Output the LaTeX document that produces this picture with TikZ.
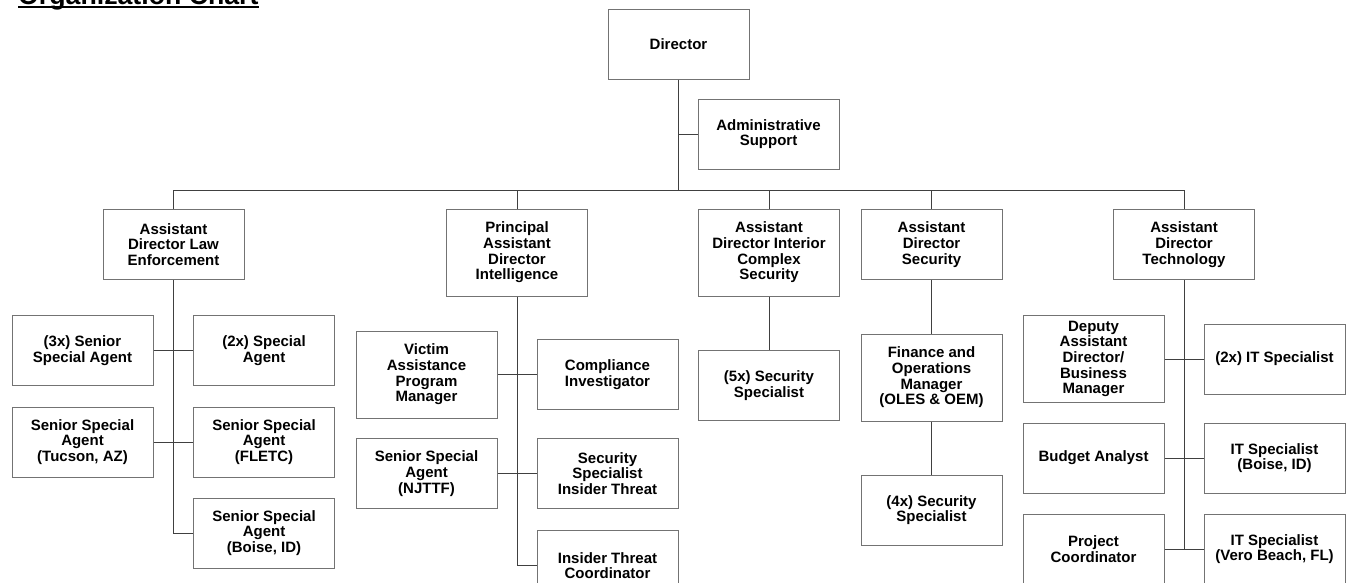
\documentclass[tikz,border=0pt]{standalone}
\usepackage{fontspec}
\setmainfont{Liberation Sans}
\usetikzlibrary{positioning}

\begin{document}
\begin{tikzpicture}[
    x=1pt, y=-1pt,
    every node/.style={font=\fontsize{15}{15.7}\selectfont\bfseries},
    box/.style={draw=black!55, line width=1pt, fill=white, align=center,
        minimum width=141pt, minimum height=70pt, inner sep=1pt},
    tall/.style={box, minimum height=87pt},
    link/.style={draw=black!75, line width=0.9pt}
]

\useasboundingbox (0,0) rectangle (1350,582);

% Title
\node[anchor=base west, inner sep=0pt, font=\fontsize{26.7}{30}\selectfont\bfseries] (title) at (18,4.5) {Organization Chart};
\draw[line width=2pt] ([yshift=-2pt]title.base west) -- ([yshift=-2pt]title.base east);

% Director and support
\node[box] (dir) at (678.5,44) {Director};
\node[box] (admin) at (768.5,134) {Administrative\\Support};

% Assistant directors
\node[box] (law) at (173.5,244.5) {Assistant\\Director Law\\Enforcement};
\node[tall] (intel) at (517,252.5) {Principal\\Assistant\\Director\\Intelligence};
\node[tall] (inter) at (769,252.5) {Assistant\\Director Interior\\Complex\\Security};
\node[box] (sec) at (931.5,244.5) {Assistant\\Director\\Security};
\node[box] (tech) at (1184,244.5) {Assistant\\Director\\Technology};

% Law enforcement staff
\node[box] (ssa3) at (82.5,350.5) {(3x) Senior\\Special Agent};
\node[box] (sa2) at (264,350.5) {(2x) Special\\Agent};
\node[box] (tucson) at (82.5,442) {Senior Special\\Agent\\(Tucson, AZ)};
\node[box] (fletc) at (264,442) {Senior Special\\Agent\\(FLETC)};
\node[box] (boise) at (264,533) {Senior Special\\Agent\\(Boise, ID)};

% Intelligence staff
\node[tall] (victim) at (426.5,374.5) {Victim\\Assistance\\Program\\Manager};
\node[box] (compl) at (607.5,374.5) {Compliance\\Investigator};
\node[box] (njttf) at (426.5,473.5) {Senior Special\\Agent\\(NJTTF)};
\node[box] (sst) at (607.5,473.5) {Security\\Specialist\\Insider Threat};
\node[box] (itc) at (607.5,565.5) {Insider Threat\\Coordinator};

% Interior complex staff
\node[box] (ss5) at (769,385.5) {(5x) Security\\Specialist};

% Security staff
\node[tall] (fin) at (931.5,377.5) {Finance and\\Operations\\Manager\\(OLES \& OEM)};
\node[box] (ss4) at (931.5,510) {(4x) Security\\Specialist};

% Technology staff
\node[tall] (deputy) at (1093.5,359) {Deputy\\Assistant\\Director/\\Business\\Manager};
\node[box] (it2) at (1274.5,359) {(2x) IT Specialist};
\node[box] (budget) at (1093.5,458) {Budget Analyst};
\node[box] (itboise) at (1274.5,458) {IT Specialist\\(Boise, ID)};
\node[box] (proj) at (1093.5,549) {Project\\Coordinator};
\node[box] (itvero) at (1274.5,549) {IT Specialist\\(Vero Beach, FL)};

% Top connectors
\coordinate (bus) at (678.5,190);
\draw[link] (dir.south) -- (bus);
\draw[link] (admin.west) -- (admin.west -| dir.south);
\draw[link] (law.north) -- (law.north |- bus) -- (tech.north |- bus) -- (tech.north);
\draw[link] (intel.north) -- (intel.north |- bus);
\draw[link] (inter.north) -- (inter.north |- bus);
\draw[link] (sec.north) -- (sec.north |- bus);

% Law enforcement connectors
\draw[link] (law.south) |- (boise.west);
\draw[link] (ssa3.east) -- (sa2.west);
\draw[link] (tucson.east) -- (fletc.west);

% Intelligence connectors
\draw[link] (intel.south) |- (itc.west);
\draw[link] (victim.east) -- (compl.west);
\draw[link] (njttf.east) -- (sst.west);

% Interior and security connectors
\draw[link] (inter.south) -- (ss5.north);
\draw[link] (sec.south) -- (fin.north);
\draw[link] (fin.south) -- (ss4.north);

% Technology connectors
\draw[link] (tech.south) -- (tech.south |- proj.east);
\draw[link] (deputy.east) -- (it2.west);
\draw[link] (budget.east) -- (itboise.west);
\draw[link] (proj.east) -- (itvero.west);

\end{tikzpicture}
\end{document}
